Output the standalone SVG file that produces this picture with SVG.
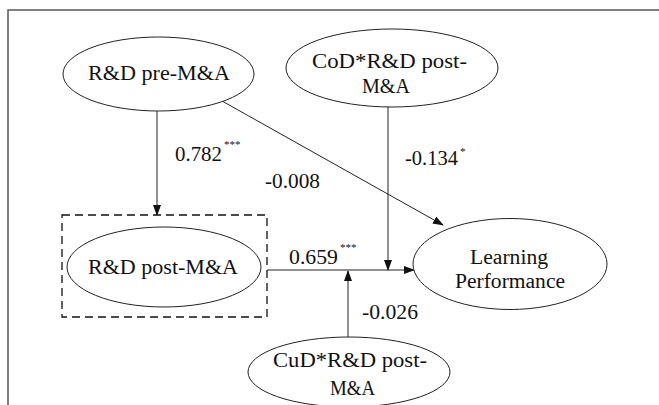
<svg xmlns="http://www.w3.org/2000/svg" width="659" height="405" viewBox="0 0 659 405">
<style>
.n{fill:#fff;stroke:#222;stroke-width:1}
.t{font-size:20px;text-anchor:middle}
.l{font-size:20px}
.s{font-size:11px}
.c{fill:none;stroke:#222;stroke-width:1}
</style>
<defs>
<marker id="ah" markerWidth="11" markerHeight="8" refX="10" refY="4" orient="auto" markerUnits="userSpaceOnUse">
<path d="M0,0 L11,4 L0,8 Z" fill="#111"/>
</marker>
</defs>
<rect x="0" y="0" width="659" height="405" fill="#fff"/>
<path d="M8,405 L8,10 L659,10" fill="none" stroke="#555" stroke-width="1.5"/>
<g id="connectors">
<line class="c" x1="157" y1="111" x2="157" y2="215" marker-end="url(#ah)"/>
<line class="c" x1="222" y1="101" x2="443" y2="225" marker-end="url(#ah)"/>
<line class="c" x1="388" y1="107" x2="388" y2="270" marker-end="url(#ah)"/>
<line class="c" x1="267" y1="270" x2="414" y2="270" marker-end="url(#ah)"/>
<line class="c" x1="348" y1="337" x2="348" y2="271" marker-end="url(#ah)"/>
</g>
<g font-family="Liberation Serif, Times New Roman, serif" fill="#111">
<g id="labels">
<text class="l" x="175" y="161" textLength="47" lengthAdjust="spacingAndGlyphs">0.782</text>
<text class="s" x="224" y="148">***</text>
<text class="l" x="265" y="188" textLength="55" lengthAdjust="spacingAndGlyphs">-0.008</text>
<text class="l" x="405" y="165" textLength="53" lengthAdjust="spacingAndGlyphs">-0.134</text>
<text class="s" x="460" y="155">*</text>
<text class="l" x="289" y="264" textLength="49" lengthAdjust="spacingAndGlyphs">0.659</text>
<text class="s" x="340" y="251">***</text>
<text class="l" x="362" y="319" textLength="56" lengthAdjust="spacingAndGlyphs">-0.026</text>
</g>
<g id="rd-pre">
<ellipse class="n" cx="158.5" cy="74" rx="95.5" ry="37"/>
<text class="t" x="159" y="80" textLength="142" lengthAdjust="spacingAndGlyphs">R&amp;D pre-M&amp;A</text>
</g>
<g id="cod-rd">
<ellipse class="n" cx="392" cy="68" rx="106" ry="39"/>
<text class="t" x="389.5" y="68" textLength="155" lengthAdjust="spacingAndGlyphs">CoD*R&amp;D post-</text>
<text class="t" x="386" y="93" textLength="48" lengthAdjust="spacingAndGlyphs">M&amp;A</text>
</g>
<g id="rd-post">
<rect x="62" y="215" width="205" height="102" fill="none" stroke="#111" stroke-width="1.3" stroke-dasharray="8,5"/>
<ellipse class="n" cx="164" cy="267" rx="97" ry="40"/>
<text class="t" x="163" y="274" textLength="150" lengthAdjust="spacingAndGlyphs">R&amp;D post-M&amp;A</text>
</g>
<g id="learning">
<ellipse class="n" cx="510" cy="264" rx="97" ry="45.5"/>
<text class="t" x="509" y="264" textLength="78" lengthAdjust="spacingAndGlyphs">Learning</text>
<text class="t" x="510" y="288" textLength="110" lengthAdjust="spacingAndGlyphs">Performance</text>
</g>
<g id="cud-rd">
<ellipse class="n" cx="349" cy="372" rx="101" ry="35"/>
<text class="t" x="350" y="367" textLength="154" lengthAdjust="spacingAndGlyphs">CuD*R&amp;D post-</text>
<text class="t" x="352.5" y="395" textLength="45" lengthAdjust="spacingAndGlyphs">M&amp;A</text>
</g>
</g>
</svg>
